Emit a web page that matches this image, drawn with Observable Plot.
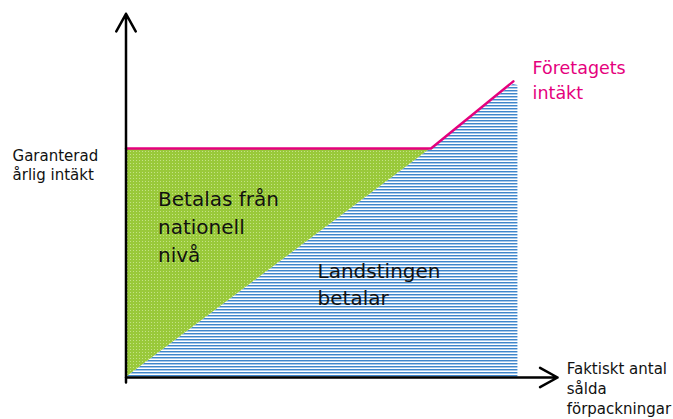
<!DOCTYPE html>
<html>
<head>
<meta charset="utf-8">
<script src="https://cdn.jsdelivr.net/npm/d3@7"></script>
<script src="https://cdn.jsdelivr.net/npm/@observablehq/plot@0.6"></script>
<style>
  html, body { margin: 0; padding: 0; background: #fff; }
  #chart { width: 673px; height: 419px; }
</style>
</head>
<body>
<div id="chart"></div>
<script>
// Quantities sold (x) and revenue (y), in arbitrary units
const revenueX = [0, 100, 127];          // company revenue line breakpoints
const revenueY = [100, 100, 129.3];      // guaranteed level, then rising
const nationalX = [0, 100];              // green part: paid nationally
const nationalLow = [0, 100];            // diagonal (county councils' share)
const nationalHigh = [100, 100];         // guaranteed annual revenue
const countyX = [0, 100, 127, 128.5];    // blue part: county councils pay
const countyTop = [0, 100, 128, 127.5];
const xAxisEnd = 141.5;
const yAxisStart = -2.2;
const yAxisEnd = 158.8;

const labels = [
  {text: "Betalas från\nnationell\nnivå", x: 10.5, y: 83.5, size: 20, lh: 1.4, color: "#111"},
  {text: "Landstingen\nbetalar", x: 62.8, y: 52, size: 20, lh: 1.35, color: "#111"},
  {text: "Företagets\nintäkt", x: 133.3, y: 140.6, size: 17.5, lh: 1.45, color: "#e5007d"},
  {text: "Garanterad\nårlig intäkt", x: -37.2, y: 100.3, size: 15, lh: 1.27, color: "#111"},
  {text: "Faktiskt antal\nsålda\nförpackningar", x: 144.5, y: 7.6, size: 15, lh: 1.32, color: "#111"}
];

const national = nationalX.map((x, i) => ({x, y1: nationalLow[i], y2: nationalHigh[i]}));
const county = countyX.map((x, i) => ({x, y1: 0, y2: countyTop[i]}));
const revenue = revenueX.map((x, i) => ({x, y: revenueY[i]}));

const chart = Plot.plot({
  width: 673,
  height: 419,
  style: {fontFamily: "DejaVu Sans", background: "#fff"},
  x: {domain: [0, 140], range: [125.5, 125.5 + 140 * 3.05], axis: null},
  y: {domain: [0, 160], range: [377, 377 - 160 * 2.29], axis: null},
  marks: [
    Plot.areaY(county, {x: "x", y1: "y1", y2: "y2", fill: "url(#hatch)"}),
    Plot.areaY(national, {x: "x", y1: "y1", y2: "y2", fill: "url(#dots)"}),
    Plot.line(revenue, {x: "x", y: "y", stroke: "#e5007d", strokeWidth: 2.5}),
    Plot.arrow([{x1: 0, y1: 0, x2: xAxisEnd, y2: 0}], {x1: "x1", y1: "y1", x2: "x2", y2: "y2", stroke: "#000", strokeWidth: 2.5, headLength: 12, headAngle: 58}),
    Plot.arrow([{x1: 0, y1: yAxisStart, x2: 0, y2: yAxisEnd}], {x1: "x1", y1: "y1", x2: "x2", y2: "y2", stroke: "#000", strokeWidth: 2.5, headLength: 12, headAngle: 58}),
    ...labels.map(l => Plot.text([l], {x: "x", y: "y", text: "text", textAnchor: "start", lineAnchor: "top", fontSize: l.size, lineHeight: l.lh, fill: l.color}))
  ]
});

// pattern fills
const svg = d3.select(chart);
const defs = svg.insert("defs", ":first-child");
const hatch = defs.append("pattern").attr("id", "hatch").attr("patternUnits", "userSpaceOnUse").attr("width", 6).attr("height", 3);
hatch.append("rect").attr("width", 6).attr("height", 3).attr("fill", "#fff");
hatch.append("rect").attr("y", 0).attr("width", 6).attr("height", 1).attr("fill", "#3f86ca");
hatch.append("rect").attr("y", 1).attr("width", 6).attr("height", 1).attr("fill", "#a6c8ea");
const dots = defs.append("pattern").attr("id", "dots").attr("patternUnits", "userSpaceOnUse").attr("width", 3).attr("height", 3);
dots.append("rect").attr("width", 3).attr("height", 3).attr("fill", "#99c93a");
dots.append("rect").attr("x", 1).attr("y", 1).attr("width", 1).attr("height", 1).attr("fill", "#c4e286");

document.getElementById("chart").appendChild(chart);
</script>
</body>
</html>
